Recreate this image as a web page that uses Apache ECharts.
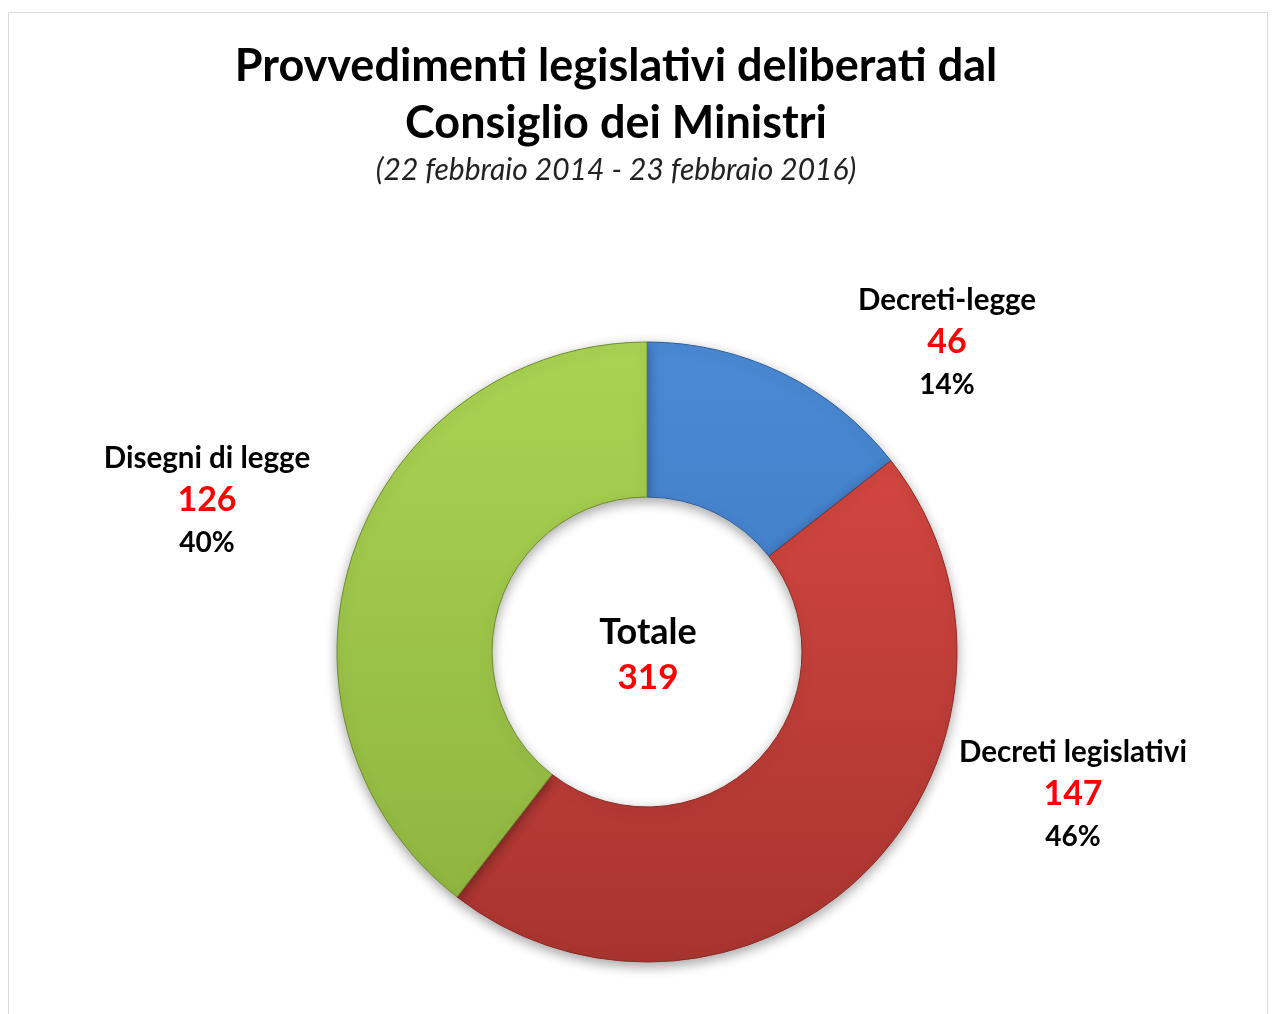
<!DOCTYPE html>
<html><head><meta charset="utf-8">
<script src="https://cdn.jsdelivr.net/npm/echarts@6/dist/echarts.min.js"></script>
<style>html,body{margin:0;padding:0;background:#fff}#c{width:1276px;height:1014px}</style>
</head><body><div id="c"></div>
<script>
const categories = ['Decreti-legge', 'Decreti legislativi', 'Disegni di legge'];
const values = [46, 147, 126];
const titleLines = ['Provvedimenti legislativi deliberati dal', 'Consiglio dei Ministri'];
const subtitle = '(22 febbraio 2014 - 23 febbraio 2016)';
const totalLabel = 'Totale';

const total = values.reduce((a, b) => a + b, 0);
const palette = [
  ['#4A8AD6', '#3A70B6', '#2F5E9C'],
  ['#DC4A44', '#A8342F', '#8E2B27'],
  ['#AAD352', '#8DB23E', '#6F8E2E']
];
const labelPos = [[947, 300], [1073, 752], [207, 458]];
const cx = 647, cy = 652, R = 310;

const chart = echarts.init(document.getElementById('c'));
const font = 'Lato, "Open Sans", sans-serif';
chart.setOption({
  backgroundColor: '#fff',
  animation: false,
  graphic: [{
    type: 'rect', shape: { x: 8.5, y: 12.5, width: 1259, height: 1010 },
    style: { fill: 'none', stroke: '#D9D9D9', lineWidth: 1 }, silent: true
  }],
  title: [
    { text: titleLines.join('\n'), left: 611, top: 33, textAlign: 'center',
      textStyle: { fontFamily: font, fontSize: 45, fontWeight: 'bold', color: '#000', lineHeight: 57 } },
    { text: subtitle, left: 611, top: 150, textAlign: 'center',
      textStyle: { fontFamily: font, fontSize: 30, fontStyle: 'italic', fontWeight: 'normal', color: '#222' } },
    { text: totalLabel + '\n{v|' + total + '}', left: 643, top: 604, textAlign: 'center',
      textStyle: { fontFamily: font, fontSize: 36, fontWeight: 'bold', color: '#000', lineHeight: 46,
        rich: { v: { fontFamily: font, fontSize: 35, fontWeight: 'bold', color: '#FF0000', lineHeight: 46 } } } }
  ],
  series: [{
    type: 'pie',
    center: [cx, cy],
    radius: [155, R],
    startAngle: 90,
    clockwise: true,
    avoidLabelOverlap: false,
    labelLine: { show: false },
    data: categories.map((n, i) => ({
      name: n, value: values[i],
      itemStyle: {
        color: new echarts.graphic.LinearGradient(0, cy - R, 0, cy + R, [
          { offset: 0, color: palette[i][0] },
          { offset: 1, color: palette[i][1] }
        ], true),
        borderColor: palette[i][2], borderWidth: 1,
        shadowBlur: 12, shadowColor: 'rgba(0,0,0,0.35)', shadowOffsetY: 4
      }
    })),
    label: {
      show: true, position: 'outside',
      formatter: p => '{n|' + p.name + '}\n{v|' + p.value + '}\n{p|' + Math.round(p.percent) + '%}',
      rich: {
        n: { fontFamily: font, fontSize: 29.5, fontWeight: 'bold', color: '#000', lineHeight: 42, align: 'center' },
        v: { fontFamily: font, fontSize: 34, fontWeight: 'bold', color: '#FF0000', lineHeight: 42, align: 'center' },
        p: { fontFamily: font, fontSize: 28, fontWeight: 'bold', color: '#000', lineHeight: 44, align: 'center' }
      }
    },
    labelLayout: p => ({ x: labelPos[p.dataIndex][0], y: labelPos[p.dataIndex][1] - 21, align: 'center', verticalAlign: 'top' })
  }]
});
</script></body></html>
